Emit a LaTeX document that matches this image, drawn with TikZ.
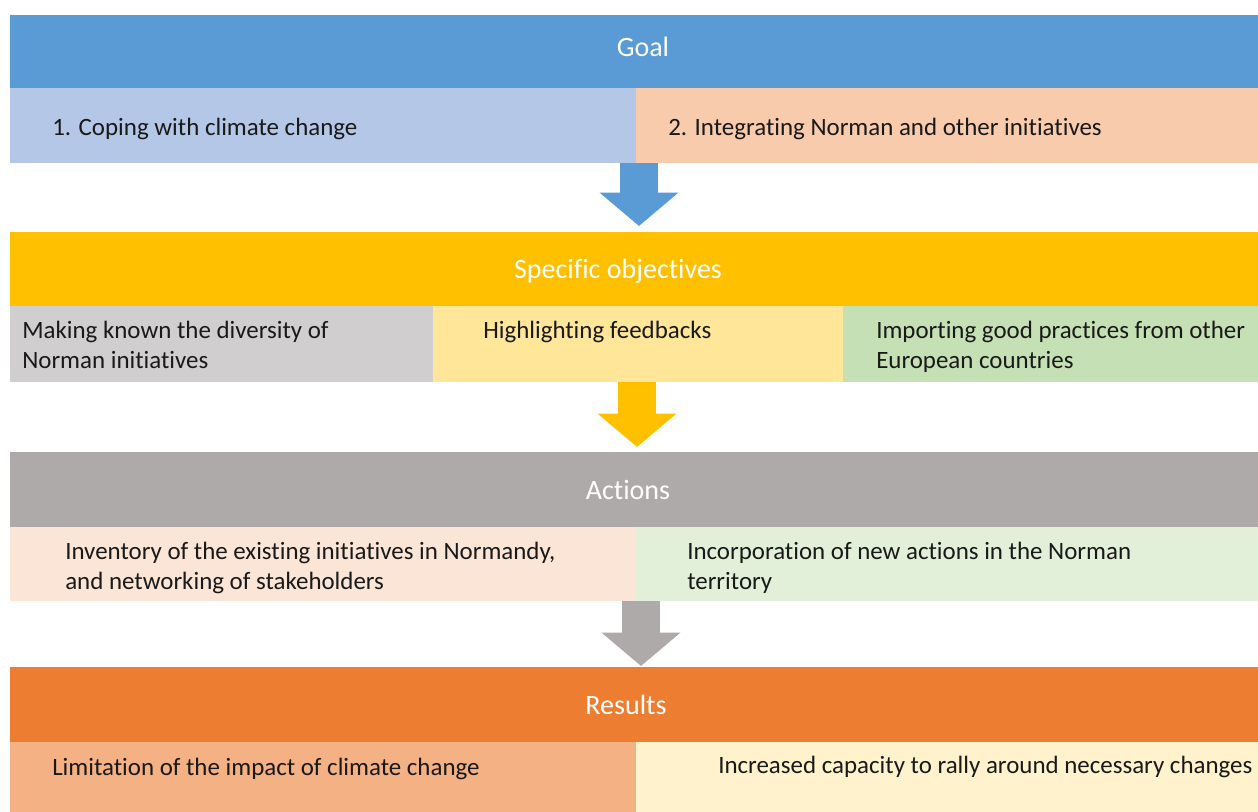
\documentclass[tikz,border=0pt]{standalone}
\usepackage{fontspec}
\setmainfont{Carlito}[Ligatures=NoCommon]
\usetikzlibrary{arrows.meta,calc}
\definecolor{goalblue}{HTML}{5B9BD5}
\definecolor{lblue}{HTML}{B4C7E7}
\definecolor{lpeach}{HTML}{F8CBAD}
\definecolor{gold}{HTML}{FFC000}
\definecolor{lgray}{HTML}{D0CECE}
\definecolor{lyellow}{HTML}{FFE699}
\definecolor{lgreen}{HTML}{C5E0B4}
\definecolor{midgray}{HTML}{AEAAAA}
\definecolor{paleorange}{HTML}{FBE5D6}
\definecolor{palegreen}{HTML}{E2F0D9}
\definecolor{orange}{HTML}{ED7D31}
\definecolor{lorange}{HTML}{F4B183}
\definecolor{cream}{HTML}{FFF2CC}
\begin{document}
\begin{tikzpicture}[x=0.75pt,y=-0.75pt,
  cell/.style={rectangle,inner sep=0pt,outer sep=0pt,anchor=north west,draw=none},
  hdr/.style={font=\fontsize{21}{25}\selectfont,text=white,anchor=base,inner sep=0pt},
  lbl/.style={font=\fontsize{18.7}{22.5}\selectfont,text=black!90,anchor=base west,align=left,inner sep=0pt},
  bigarrow/.style={line width=28.5pt,-{Triangle[width=57.75pt,length=25pt]}}]
\useasboundingbox (0,0) rectangle (1258,812);
\clip (0,0) rectangle (1258,812);
% Goal
\node[cell,fill=goalblue,minimum width=1260*0.75pt,minimum height=73*0.75pt] (goal) at (10,15) {};
\node[cell,fill=lblue,minimum width=626*0.75pt,minimum height=75*0.75pt] (g1) at (10,88) {};
\node[cell,fill=lpeach,minimum width=640*0.75pt,minimum height=75*0.75pt] (g2) at (636,88) {};
\node[hdr] (goalt) at (643,57) {Goal};
\node[lbl] (g1t) at (52,136) {1. Coping with climate change};
\node[lbl] (g2t) at (668,136) {2. Integrating Norman and other initiatives};
% Specific objectives
\node[cell,fill=gold,minimum width=1260*0.75pt,minimum height=74*0.75pt] (obj) at (10,232) {};
\node[cell,fill=lgray,minimum width=423*0.75pt,minimum height=76*0.75pt] (o1) at (10,306) {};
\node[cell,fill=lyellow,minimum width=410*0.75pt,minimum height=76*0.75pt] (o2) at (433,306) {};
\node[cell,fill=lgreen,minimum width=430*0.75pt,minimum height=76*0.75pt] (o3) at (843,306) {};
\node[hdr] (objt) at (618,279) {Specific objectives};
\node[lbl] (o1t) at (22,369) {Making known the diversity of\\Norman initiatives};
\node[lbl] (o2t) at (483,339) {Highlighting feedbacks};
\node[lbl] (o3t) at (876,369) {Importing good practices from other\\European countries};
% Actions
\node[cell,fill=midgray,minimum width=1260*0.75pt,minimum height=75*0.75pt] (act) at (10,452) {};
\node[cell,fill=paleorange,minimum width=626*0.75pt,minimum height=74*0.75pt] (a1) at (10,527) {};
\node[cell,fill=palegreen,minimum width=640*0.75pt,minimum height=74*0.75pt] (a2) at (636,527) {};
\node[hdr] (actt) at (628,500) {Actions};
\node[lbl] (a1t) at (65,590) {Inventory of the existing initiatives in Normandy,\\and networking of stakeholders};
\node[lbl] (a2t) at (687,590) {Incorporation of new actions in the Norman\\territory};
% Results
\node[cell,fill=orange,minimum width=1260*0.75pt,minimum height=75*0.75pt] (res) at (10,667) {};
\node[cell,fill=lorange,minimum width=626*0.75pt,minimum height=80*0.75pt] (r1) at (10,742) {};
\node[cell,fill=cream,minimum width=640*0.75pt,minimum height=80*0.75pt] (r2) at (636,742) {};
\node[hdr] (rest) at (626,715) {Results};
\node[lbl] (r1t) at (52,776) {Limitation of the impact of climate change};
\node[lbl] (r2t) at (718,774) {Increased capacity to rally around necessary changes};
% Arrows
\draw[bigarrow,goalblue] ($(g1.south east)+(3,0)$) -- ($(g1.south east)+(3,63)$);
\draw[bigarrow,gold] ($(o2.south west)+(204,0)$) -- ($(o2.south west)+(204,65)$);
\draw[bigarrow,midgray] ($(a1.south east)+(5,0)$) -- ($(a1.south east)+(5,65)$);
\end{tikzpicture}
\end{document}
